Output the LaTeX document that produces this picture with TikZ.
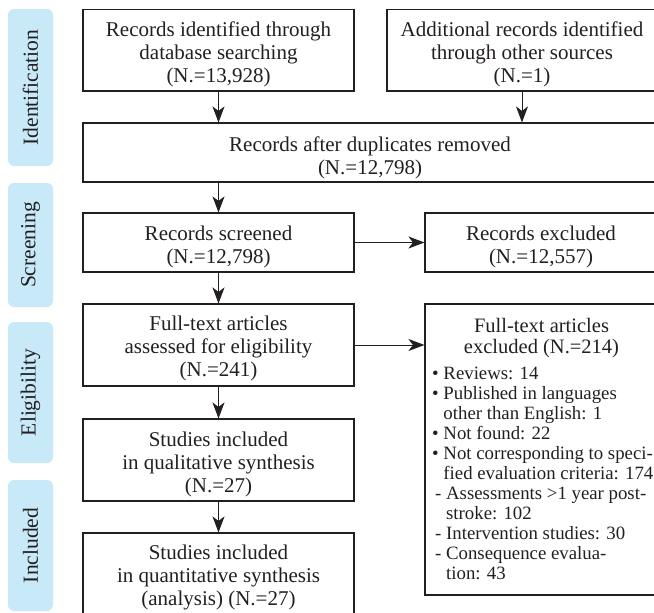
\documentclass[tikz,border=0pt]{standalone}
\usepackage{fontspec}
\setmainfont{Liberation Serif}
\usetikzlibrary{arrows.meta}
\definecolor{side}{HTML}{C8E9F8}
\definecolor{ink}{HTML}{231F20}
\newcommand\dnstrut{\rule{0pt}{23.5pt}}
\tikzset{
  box/.style={draw=ink,line width=1.1pt,inner sep=0pt,align=center,text=ink,
    font=\fontsize{21}{23}\selectfont},
  sidebox/.style={fill=side,rounded corners=6pt,inner sep=0pt,minimum width=45pt,
    text=ink,font=\fontsize{21.5}{23}\selectfont},
  txt/.style={inner sep=0pt,text=ink},
  arr/.style={draw=ink,line width=1pt,-{Stealth[length=16pt,width=12pt,inset=4.5pt]}}
}
\begin{document}
\begin{tikzpicture}[x=1pt,y=-1pt]
\useasboundingbox (0,0) rectangle (654,613);
% side bars
\node[sidebox,minimum height=157pt] (sid) at (30.5,87.5) {\rotatebox{90}{Identification}};
\node[sidebox,minimum height=124pt] (sscr) at (30.5,245) {\rotatebox{90}{Screening}};
\node[sidebox,minimum height=141pt] (sel) at (30.5,392.5) {\rotatebox{90}{Eligibility}};
\node[sidebox,minimum height=131pt] (sinc) at (30.5,545.5) {\rotatebox{90}{Included}};
% boxes
\node[box,minimum width=271pt,minimum height=81.5pt] (b1) at (218.5,50.25)
  {\dnstrut Records identified through\\database searching\\(N.=13,928)};
\node[box,minimum width=270pt,minimum height=81.5pt] (b2) at (522,50.25)
  {\dnstrut Additional records identified\\through other sources\\(N.=1)};
\node[box,minimum width=574pt,minimum height=59pt] (b3) at (370,152.5)
  {\rule{0pt}{25pt}Records after duplicates removed\\(N.=12,798)};
\node[box,minimum width=271pt,minimum height=59pt] (b4) at (218.5,242.5)
  {\dnstrut Records screened\\(N.=12,798)};
\node[box,minimum width=232pt,minimum height=59pt] (b5) at (541,242.5)
  {\dnstrut Records excluded\\(N.=12,557)};
\node[box,minimum width=271pt,minimum height=82pt] (b6) at (218.5,345)
  {\rule{0pt}{21.5pt}Full-text articles\\assessed for eligibility\\(N.=241)};
\node[box,minimum width=232pt,minimum height=291pt] (b7) at (541,449.5) {};
\node[txt,align=center,font=\fontsize{20.5}{21.5}\selectfont,anchor=north] (b7t) at (541.5,318)
  {Full-text articles\\excluded (N.=214)};
\node[txt,align=left,font=\fontsize{18.8}{20}\selectfont,anchor=north west] (b7l) at (432,366.5)
  {\textbullet\ Reviews: 14\\
   \textbullet\ Published in languages\\
   \hphantom{\textbullet\ }other than English: 1\\
   \textbullet\ Not found: 22\\
   \textbullet\ Not corresponding to speci-\\
   \hphantom{\textbullet\ }fied evaluation criteria: 174\\
   \hspace*{3pt}- Assessments >1 year post-\\
   \hspace*{3pt}\hphantom{- }stroke: 102\\
   \hspace*{3pt}- Intervention studies: 30\\
   \hspace*{3pt}- Consequence evalua-\\
   \hspace*{3pt}\hphantom{- }tion: 43};
\node[box,minimum width=271pt,minimum height=82pt] (b8) at (218.5,460)
  {\dnstrut Studies included\\in qualitative synthesis\\(N.=27)};
\node[box,minimum width=271pt,minimum height=86pt] (b9) at (218.5,576) {};
\node[txt,align=center,font=\fontsize{21}{23}\selectfont,anchor=north] (b9t) at (218.5,545)
  {Studies included\\in quantitative synthesis\\(analysis) (N.=27)};
% arrows
\draw[arr] (b1.south) -- (b1.south |- b3.north);
\draw[arr] (b2.south) -- (b2.south |- b3.north);
\draw[arr] (b4.north |- b3.south) -- (b4.north);
\draw[arr] (b4.south) -- (b6.north);
\draw[arr] (b6.south) -- (b8.north);
\draw[arr] (b8.south) -- (b9.north);
\draw[arr] (b4.east) -- (b4.east -| b5.west);
\draw[arr] (b6.east) -- (b6.east -| b7.west);
\end{tikzpicture}
\end{document}
